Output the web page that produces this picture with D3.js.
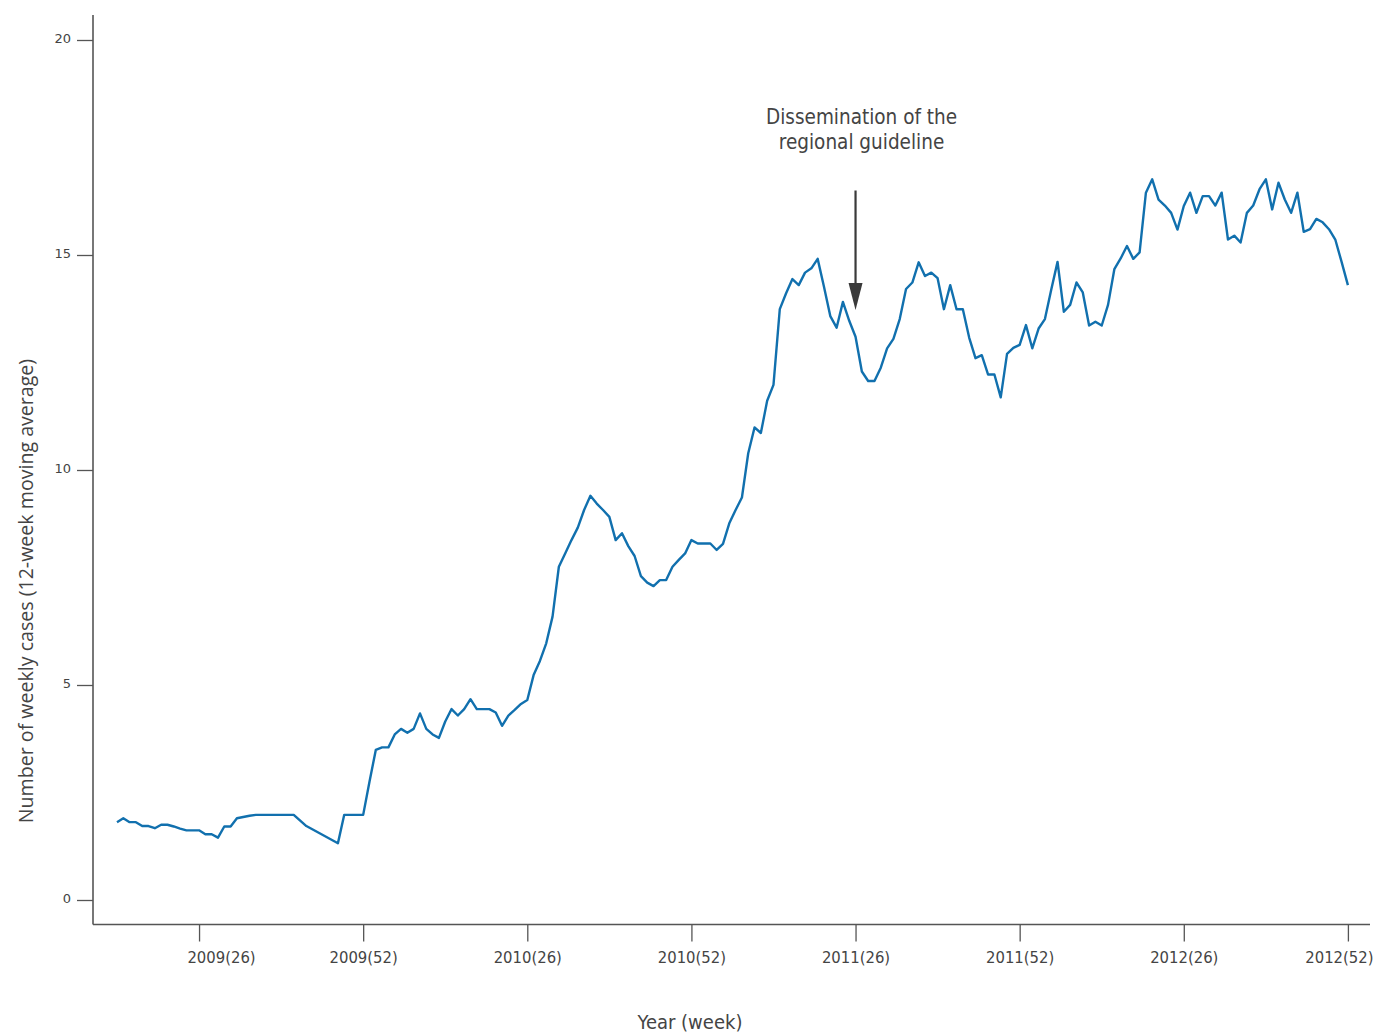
<!DOCTYPE html>
<html>
<head>
<meta charset="utf-8">
<script src="https://cdn.jsdelivr.net/npm/d3@7"></script>
<style>
  html, body { margin: 0; padding: 0; background: #fff; }
  svg { display: block; }
</style>
</head>
<body>
<svg id="chart" width="1373" height="1032"></svg>
<script>
// ---- data ----
// week index: 2009 week w -> w, 2010 week w -> 52 + w, 2011 -> 104 + w, 2012 -> 156 + w
const weeks = [13,14,15,16,17,18,19,20,21,22,23,24,25,26,27,28,29,30,31,32,33,34,35,36,37,38,39,40,41,43,48,
  49,50,51,52,53,54,55,56,57,58,59,60,61,62,63,64,65,66,67,68,69,70,71,72,73,74,75,76,77,78,
  79,80,81,82,83,84,85,86,87,88,89,90,91,92,93,94,95,96,97,98,99,100,101,102,103,104,
  105,106,107,108,109,110,111,112,113,114,115,116,117,118,119,120,121,122,123,124,125,126,127,128,129,130,
  131,132,133,134,135,136,137,138,139,140,141,142,143,144,145,146,147,148,149,150,151,152,153,154,155,156,
  157,158,159,160,161,162,163,164,165,166,167,168,169,170,171,172,173,174,175,176,177,178,179,180,181,182,
  183,184,185,186,187,188,189,190,191,192,193,194,195,196,197,198,199,200,201,202,203,204,205,206,207,208];
const cases = [1.81,1.90,1.81,1.81,1.72,1.72,1.67,1.75,1.75,1.71,1.66,1.62,1.62,1.62,1.53,1.53,1.45,1.71,1.71,1.90,1.93,1.96,1.98,1.98,1.98,1.98,1.98,1.98,1.98,1.72,1.32,
  1.98,1.98,1.98,1.98,2.75,3.49,3.55,3.55,3.85,3.98,3.89,3.98,4.34,3.98,3.85,3.77,4.15,4.44,4.29,4.44,4.67,4.44,4.44,4.44,4.36,4.05,4.29,4.42,4.56,4.65,
  5.23,5.56,5.97,6.59,7.75,8.06,8.37,8.66,9.07,9.40,9.22,9.07,8.91,8.37,8.53,8.23,8.00,7.53,7.38,7.30,7.44,7.44,7.75,7.91,8.06,8.37,
  8.29,8.29,8.29,8.14,8.28,8.76,9.07,9.36,10.39,10.99,10.86,11.61,11.98,13.74,14.11,14.44,14.30,14.59,14.69,14.91,14.26,13.58,13.31,13.91,13.47,13.10,
  12.29,12.07,12.07,12.38,12.83,13.05,13.51,14.21,14.36,14.83,14.51,14.59,14.46,13.74,14.30,13.74,13.74,13.08,12.60,12.67,12.22,12.22,11.69,12.70,12.84,12.91,
  13.37,12.83,13.29,13.51,14.19,14.84,13.68,13.84,14.36,14.13,13.36,13.45,13.36,13.84,14.67,14.92,15.21,14.91,15.06,16.45,16.76,16.29,16.15,15.98,15.59,16.14,
  16.45,15.98,16.37,16.37,16.15,16.45,15.36,15.45,15.29,15.98,16.15,16.53,16.76,16.06,16.68,16.29,15.98,16.45,15.54,15.60,15.84,15.76,15.60,15.36,14.84,14.30];
const xTickWeeks = [26, 52, 78, 104, 130, 156, 182, 208];
const xTickLabels = ["2009(26)", "2009(52)", "2010(26)", "2010(52)", "2011(26)", "2011(52)", "2012(26)", "2012(52)"];
const yTickValues = [0, 5, 10, 15, 20];
const annotationLines = ["Dissemination of the", "regional guideline"];
const annotationWeek = 130;
const arrowFrom = 16.5, arrowTo = 13.72;

// ---- layout ----
const svg = d3.select("#chart");
const x = d3.scaleLinear().domain([9.2, 211.5]).range([93, 1370]);
const y = d3.scaleLinear().domain([0, 20]).range([900, 40]);
const axisY = 924.5, axisTop = 15;
const axisColor = "#555";
const textColor = "#444";

// Y axis
const gy = svg.append("g").attr("transform", "translate(93,0)")
  .call(d3.axisLeft(y).tickValues(yTickValues).tickSize(16).tickSizeOuter(0).tickPadding(6));
gy.select(".domain").remove();
gy.selectAll(".tick line").attr("stroke", axisColor).attr("stroke-width", 1.3);
gy.selectAll(".tick text").attr("fill", textColor)
  .style("font-family", "'DejaVu Sans', sans-serif").style("font-size", "13px")
  .attr("dy", "0.2em");
svg.append("line").attr("x1", 93).attr("x2", 93).attr("y1", axisTop).attr("y2", axisY)
  .attr("stroke", axisColor).attr("stroke-width", 1.6);

// X axis
const labelShift = (i) => i === 0 ? 22 : (i === xTickLabels.length - 1 ? -9 : 0);
const gx = svg.append("g").attr("transform", `translate(0,${axisY})`)
  .call(d3.axisBottom(x).tickValues(xTickWeeks).tickSize(17).tickSizeOuter(0)
    .tickFormat((d, i) => xTickLabels[i]));
gx.select(".domain").remove();
gx.selectAll(".tick line").attr("stroke", axisColor).attr("stroke-width", 1.3);
gx.selectAll(".tick text").attr("fill", textColor)
  .style("font-family", "'DejaVu Sans Condensed', 'DejaVu Sans', sans-serif").style("font-size", "16.5px")
  .attr("x", (d, i) => labelShift(i)).attr("y", 27).attr("dy", "0.71em");
svg.append("line").attr("x1", 93).attr("x2", 1370).attr("y1", axisY).attr("y2", axisY)
  .attr("stroke", axisColor).attr("stroke-width", 1.6);

// axis titles
svg.append("text").attr("x", 690).attr("y", 1029).attr("text-anchor", "middle")
  .attr("fill", textColor)
  .style("font-family", "'DejaVu Sans Condensed', 'DejaVu Sans', sans-serif").style("font-size", "20px")
  .text("Year (week)");
svg.append("text").attr("transform", "translate(33,591) rotate(-90)").attr("text-anchor", "middle")
  .attr("fill", textColor)
  .style("font-family", "'Open Sans', sans-serif").style("font-size", "19.6px")
  .text("Number of weekly cases (12-week moving average)");

// line
const data = weeks.map((w, i) => ({ w, v: cases[i] }));
svg.append("path").datum(data)
  .attr("fill", "none").attr("stroke", "#1170ae").attr("stroke-width", 2.4)
  .attr("stroke-linejoin", "round")
  .attr("d", d3.line().x(d => x(d.w)).y(d => y(d.v)));

// annotation
const ax = x(annotationWeek);
svg.append("line").attr("x1", ax).attr("x2", ax).attr("y1", y(arrowFrom)).attr("y2", y(arrowTo) - 20)
  .attr("stroke", "#3a3a3a").attr("stroke-width", 2.2);
svg.append("path")
  .attr("d", `M${ax - 7},${y(arrowTo) - 27} L${ax + 7},${y(arrowTo) - 27} L${ax},${y(arrowTo)} Z`)
  .attr("fill", "#3a3a3a");
const at = svg.append("text").attr("text-anchor", "middle").attr("fill", textColor)
  .style("font-family", "'DejaVu Sans Condensed', 'DejaVu Sans', sans-serif").style("font-size", "20.5px");
annotationLines.forEach((t, i) => {
  at.append("tspan").attr("x", ax + 6).attr("y", 124 + i * 25).text(t);
});
</script>
</body>
</html>
